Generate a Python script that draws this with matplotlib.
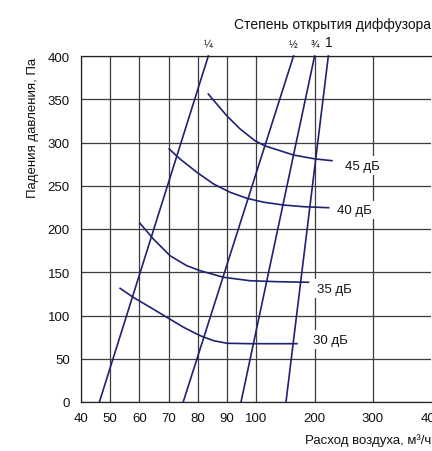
import numpy as np
import matplotlib
matplotlib.use("Agg")
import matplotlib.pyplot as plt

plt.rcParams['font.family'] = ['Liberation Sans', 'DejaVu Sans']

# ---- data ----
x_ticks = [40, 50, 60, 70, 80, 90, 100, 200, 300, 400]
y_ticks = [0, 50, 100, 150, 200, 250, 300, 350, 400]

opening_labels = ['¼', '½', '¾', '1']
opening_q_at_0 = [46.3, 75.0, 94.8, 151.0]
opening_q_at_400 = [83.6, 163.9, 200.0, 223.5]

db45_q = [83.6, 89.9, 94.5, 99.6, 115.4, 141.0, 163.9, 201.0, 229.7]
db45_p = [356, 331, 315.6, 302, 296, 290.5, 285.5, 281, 279]
db40_q = [70.2, 73.9, 79.7, 85.4, 91.1, 96.8, 112.5, 146.8, 181.0, 224.0]
db40_p = [292.5, 281, 265.5, 252, 242.4, 235.5, 231, 227.7, 225.8, 224.6]
db35_q = [60.2, 64.8, 70.5, 76.2, 80.8, 88.8, 97.9, 135.4, 189.6]
db35_p = [206.6, 188.4, 169.1, 157.6, 151.8, 144.2, 140.2, 139.1, 138.4]
db30_q = [53.4, 57.9, 63.7, 69.4, 75.1, 80.8, 85.4, 90.0, 97.9, 169.8]
db30_p = [131.4, 121, 109.5, 97.9, 86.4, 76.7, 70.9, 67.9, 67.4, 67.4]
db_labels = ['45 дБ', '40 дБ', '35 дБ', '30 дБ']
db_label_q = [281, 268, 234, 227]
db_label_p = [273, 222, 131, 72]

# ---- piecewise axis scale ----
def fwd(x):
    x = np.asarray(x, dtype=float)
    return np.where(x <= 100, (x - 40) / 10.0, 6 + (x - 100) / 50.0)

def inv(u):
    u = np.asarray(u, dtype=float)
    return np.where(u <= 6, 40 + 10.0 * u, 100 + 50.0 * (u - 6))

navy = '#1f2270'
grid_c = '#3c3c3c'

fig = plt.figure(figsize=(4.32, 4.52), dpi=100)
ax = fig.add_axes([81 / 432, 49 / 452, 350.4 / 432, 346 / 452])
ax.set_xscale('function', functions=(fwd, inv))
ax.set_xlim(40, 400)
ax.set_ylim(0, 400)
ax.set_xticks(x_ticks)
ax.set_xticklabels([str(v) for v in x_ticks])
ax.set_yticks(y_ticks)
ax.xaxis.set_minor_locator(matplotlib.ticker.NullLocator())
ax.tick_params(axis='both', length=0, labelsize=9.5, colors='#111111')
ax.tick_params(axis='x', pad=7)
ax.tick_params(axis='y', pad=8)
ax.grid(True, color=grid_c, lw=0.9)
ax.get_xgridlines()[-1].set_visible(False)
ax.set_axisbelow(True)
ax.spines['right'].set_visible(False)
for s in ['left', 'bottom', 'top']:
    ax.spines[s].set_color('#222222')
    ax.spines[s].set_linewidth(0.9)

lw = 1.2
for lab, q0, q1 in zip(opening_labels, opening_q_at_0, opening_q_at_400):
    ax.plot([q0, q1], [0, 400], color=navy, lw=lw, clip_on=False)
    fs = 10 if lab == '1' else 7.5
    ax.annotate(lab, xy=(q1, 400), xytext=(0, 5), textcoords='offset points',
                ha='center', va='bottom', fontsize=fs, color='#111111',
                annotation_clip=False)

for q, p in [(db45_q, db45_p), (db40_q, db40_p), (db35_q, db35_p), (db30_q, db30_p)]:
    ax.plot(q, p, color=navy, lw=lw, solid_joinstyle='round')

for lab, q, p in zip(db_labels, db_label_q, db_label_p):
    ax.text(q, p, lab, ha='center', va='center', fontsize=9.5, color='#111111',
            bbox=dict(facecolor='white', edgecolor='none', pad=2.5))

fig.text(431 / 432, 1 - 25 / 452, 'Степень открытия диффузора', ha='right',
         va='center', fontsize=10, color='#111111')
fig.text(431 / 432, 1 - 441 / 452, 'Расход воздуха, м³/ч', ha='right',
         va='center', fontsize=9.5, color='#111111')
fig.text(33 / 432, 1 - 58 / 452, 'Падения давления, Па', ha='center',
         va='top', rotation=90, fontsize=9.5, color='#111111')

fig.savefig('out.png', dpi=100)
